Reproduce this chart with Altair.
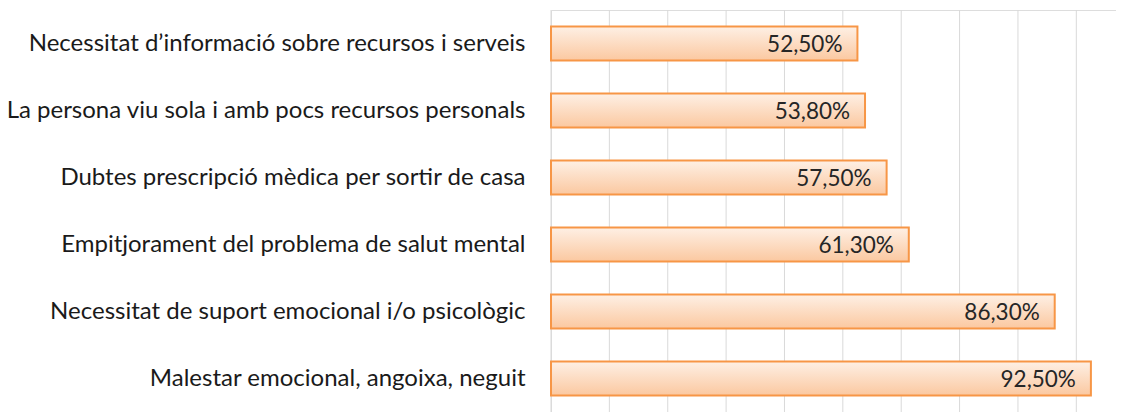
import altair as alt
import pandas as pd

categories = [
    "Necessitat d\u2019informació sobre recursos i serveis",
    "La persona viu sola i amb pocs recursos personals",
    "Dubtes prescripció mèdica per sortir de casa",
    "Empitjorament del problema de salut mental",
    "Necessitat de suport emocional i/o psicològic",
    "Malestar emocional, angoixa, neguit",
]
values = [52.5, 53.8, 57.5, 61.3, 86.3, 92.5]
labels = [f"{v:.2f}".replace(".", ",") + "%" for v in values]
grid_values = [0, 10, 20, 30, 40, 50, 60, 70, 80, 90]

df = pd.DataFrame({"cat": categories, "val": values, "label": labels})
grid_df = pd.DataFrame({"g": grid_values})

FONT = "Lato"
H = 402

y = alt.Y("cat:N", sort=categories, title=None,
          scale=alt.Scale(paddingInner=0.49, paddingOuter=0.245),
          axis=alt.Axis(labelFont=FONT, labelFontSize=24, labelColor="#1a1a1a",
                        labelPadding=26, ticks=False, domain=False,
                        labelLimit=700, grid=False))
xscale = alt.Scale(domain=[0, 96.8], nice=False)
x = alt.X("val:Q", title=None, scale=xscale, axis=None)

grad = alt.Gradient(gradient="linear", x1=0, x2=0, y1=0, y2=1,
                    stops=[alt.GradientStop(color="#fef0e5", offset=0),
                           alt.GradientStop(color="#fbc8a0", offset=1)])

grid = alt.Chart(grid_df).mark_rule(color="#d9d9d9", strokeWidth=1).encode(
    x=alt.X("g:Q", scale=xscale, axis=None),
    y=alt.value(0), y2=alt.value(H))
bars = alt.Chart(df).mark_bar(fill=grad, stroke="#f79646", strokeWidth=2).encode(x=x, y=y)
text = alt.Chart(df).mark_text(align="right", baseline="middle", dx=-15, dy=1,
                               font=FONT, fontSize=22.5, color="#262626").encode(
    x=x, y=y, text="label:N")

chart = alt.layer(grid, bars, text).properties(
    width=565, height=H,
    autosize=alt.AutoSizeParams(type="none"),
    padding={"left": 543, "top": 2, "right": 0, "bottom": 0},
).configure_view(strokeWidth=0, strokeOpacity=0).configure_axis(
    domain=False, ticks=False, grid=False
).configure(background="white")

chart.save("out.html", embed_options={"renderer": "svg", "actions": False})
